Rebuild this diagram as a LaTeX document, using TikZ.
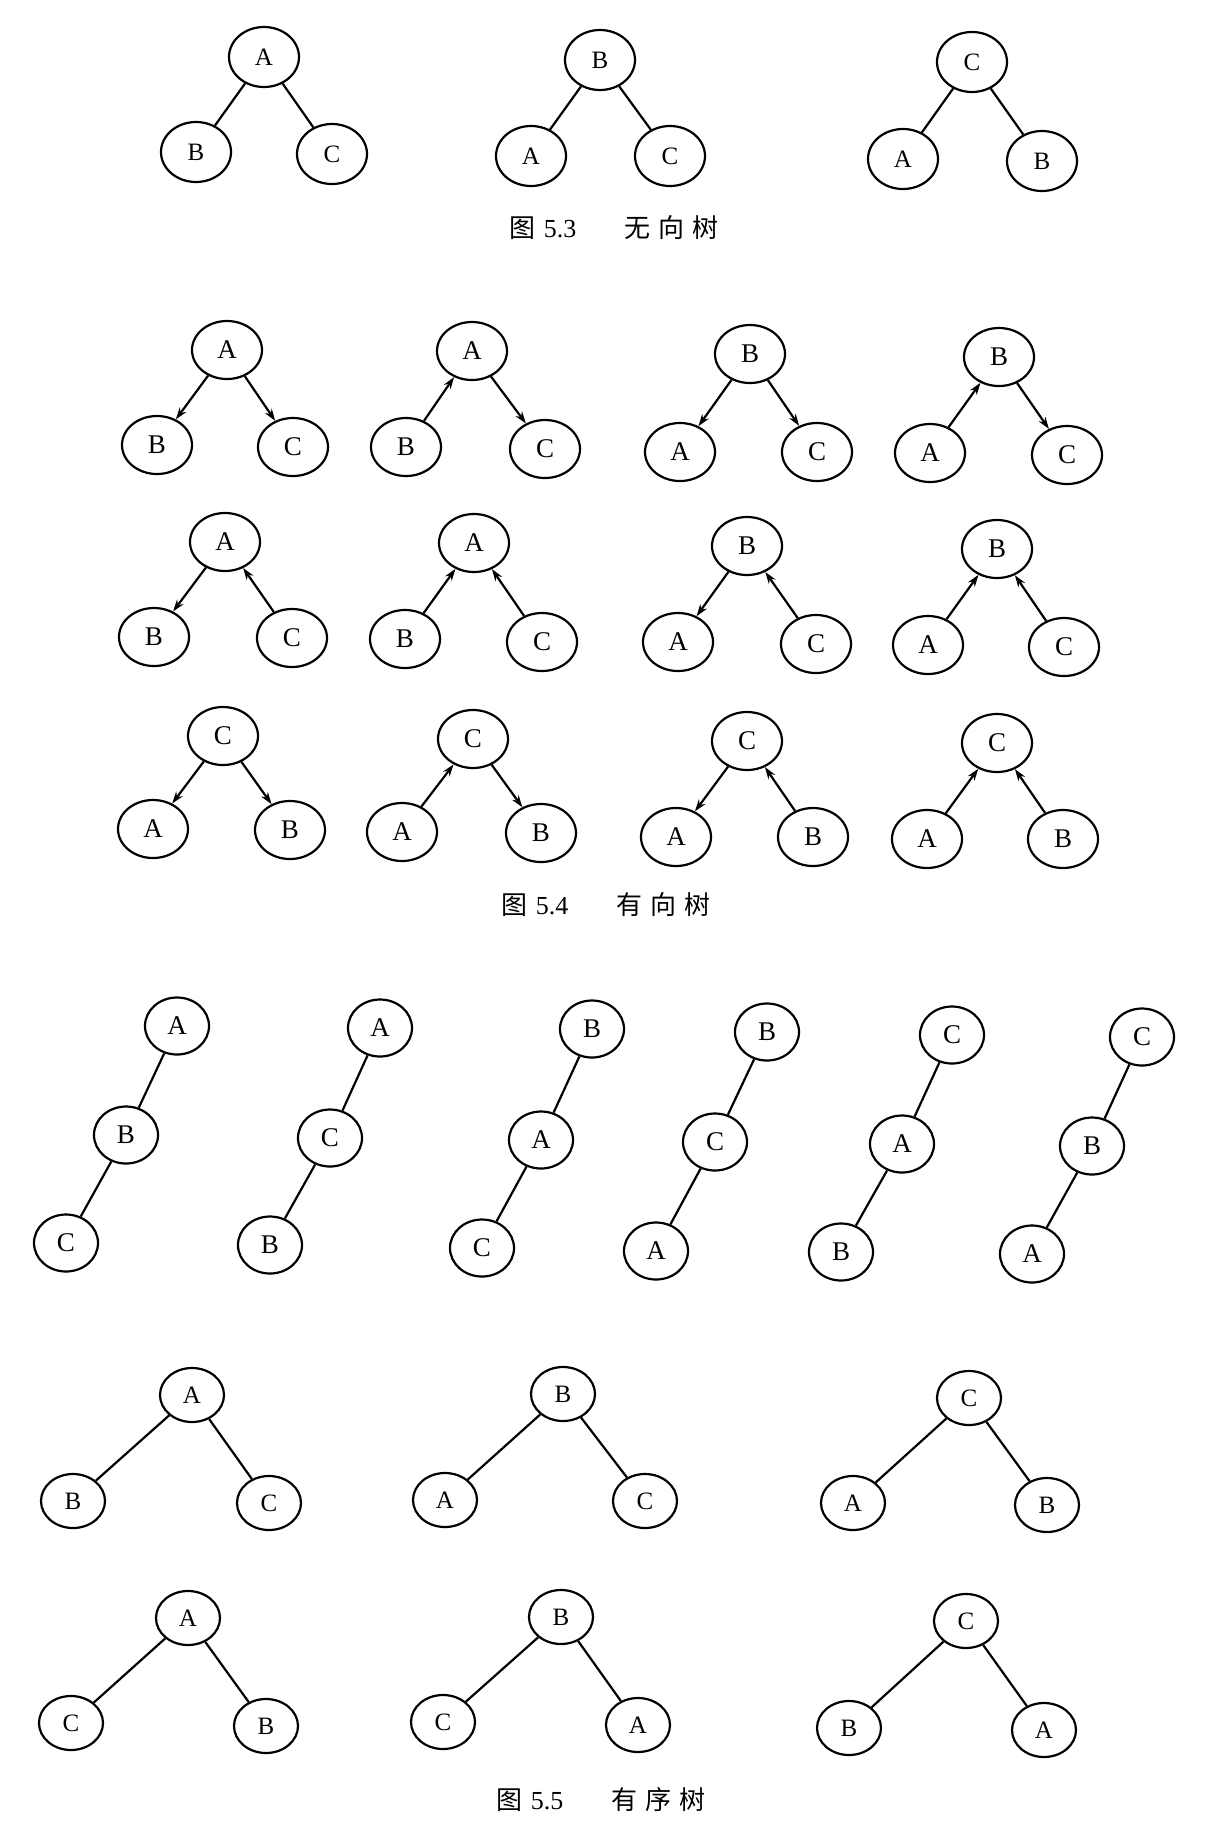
\documentclass[tikz,border=0pt]{standalone}
\usepackage{fontspec}
\setmainfont{Liberation Serif}
\newfontfamily\cjk{Noto Sans CJK SC}
\usetikzlibrary{shapes.geometric,arrows.meta}
\tikzset{
  nd/.style={draw,ellipse,line width=1.1pt,inner sep=0pt,font=\fontsize{12.5}{12.5}\selectfont},
  ndA/.style={nd,minimum width=35pt,minimum height=30pt},
  ndB/.style={nd,minimum width=35pt,minimum height=29pt,font=\fontsize{13.5}{13.5}\selectfont},
  ndC/.style={nd,minimum width=32pt,minimum height=28.5pt,font=\fontsize{13.5}{13.5}\selectfont},
  ndD/.style={nd,minimum width=32pt,minimum height=27pt},
  ln/.style={line width=1.1pt},
  arr/.style={line width=1.1pt,-{Stealth[length=6pt,width=4pt]}},
  figcap/.style={font=\fontsize{13}{13}\selectfont}
}
\newcommand\tri[8]{%
  \node[#2] (#1t) at (#4) {#3};
  \node[#2] (#1l) at (#6) {#5};
  \node[#2] (#1r) at (#8) {#7};}
\newcommand\chain[8]{%
  \node[#2] (#1a) at (#4) {#3};
  \node[#2] (#1b) at (#6) {#5};
  \node[#2] (#1c) at (#8) {#7};
  \draw[ln] (#1a) -- (#1b);
  \draw[ln] (#1b) -- (#1c);}
\newcommand\capt[2]{{\cjk 图}\hspace{4pt}#1\hspace{24pt}{\cjk #2}}
\begin{document}
\begin{tikzpicture}[x=0.5pt,y=-0.5pt]
\useasboundingbox (0,0) rectangle (1213,1838);
% ---------- Fig 5.3 ----------
\tri{u1}{ndA}{A}{264,57}{B}{196,152}{C}{332,154}
\tri{u2}{ndA}{B}{600,60}{A}{531,156}{C}{670,156}
\tri{u3}{ndA}{C}{972,62}{A}{903,159}{B}{1042,161}
\foreach \p in {u1,u2,u3}{\draw[ln] (\p t) -- (\p l); \draw[ln] (\p t) -- (\p r);}
\node[figcap] (c53) at (614,228) {\capt{5.3}{无\hspace{4pt}向\hspace{4pt}树}};
% ---------- Fig 5.4 ----------
\tri{d1}{ndB}{A}{227,350}{B}{157,445}{C}{293,447}
\tri{d2}{ndB}{A}{472,351}{B}{406,447}{C}{545,449}
\tri{d3}{ndB}{B}{750,354}{A}{680,452}{C}{817,452}
\tri{d4}{ndB}{B}{999,357}{A}{930,453}{C}{1067,455}
\tri{d5}{ndB}{A}{225,542}{B}{154,637}{C}{292,638}
\tri{d6}{ndB}{A}{474,543}{B}{405,639}{C}{542,642}
\tri{d7}{ndB}{B}{747,546}{A}{678,642}{C}{816,644}
\tri{d8}{ndB}{B}{997,549}{A}{928,645}{C}{1064,647}
\tri{d9}{ndB}{C}{223,736}{A}{153,829}{B}{290,830}
\tri{d10}{ndB}{C}{473,739}{A}{402,832}{B}{541,833}
\tri{d11}{ndB}{C}{747,741}{A}{676,837}{B}{813,837}
\tri{d12}{ndB}{C}{997,743}{A}{927,839}{B}{1063,839}
% row 1
\draw[arr] (d1t) -- (d1l); \draw[arr] (d1t) -- (d1r);
\draw[arr] (d2l) -- (d2t); \draw[arr] (d2t) -- (d2r);
\draw[arr] (d3t) -- (d3l); \draw[arr] (d3t) -- (d3r);
\draw[arr] (d4l) -- (d4t); \draw[arr] (d4t) -- (d4r);
% row 2
\draw[arr] (d5t) -- (d5l); \draw[arr] (d5r) -- (d5t);
\draw[arr] (d6l) -- (d6t); \draw[arr] (d6r) -- (d6t);
\draw[arr] (d7t) -- (d7l); \draw[arr] (d7r) -- (d7t);
\draw[arr] (d8l) -- (d8t); \draw[arr] (d8r) -- (d8t);
% row 3
\draw[arr] (d9t) -- (d9l); \draw[arr] (d9t) -- (d9r);
\draw[arr] (d10l) -- (d10t); \draw[arr] (d10t) -- (d10r);
\draw[arr] (d11t) -- (d11l); \draw[arr] (d11r) -- (d11t);
\draw[arr] (d12l) -- (d12t); \draw[arr] (d12r) -- (d12t);
\node[figcap] (c54) at (606,905) {\capt{5.4}{有\hspace{4pt}向\hspace{4pt}树}};
% ---------- Fig 5.5 ----------
\chain{k1}{ndC}{A}{177,1026}{B}{126,1135}{C}{66,1243}
\chain{k2}{ndC}{A}{380,1028}{C}{330,1138}{B}{270,1245}
\chain{k3}{ndC}{B}{592,1029}{A}{541,1140}{C}{482,1248}
\chain{k4}{ndC}{B}{767,1032}{C}{715,1142}{A}{656,1251}
\chain{k5}{ndC}{C}{952,1035}{A}{902,1144}{B}{841,1252}
\chain{k6}{ndC}{C}{1142,1037}{B}{1092,1146}{A}{1032,1254}
\tri{o1}{ndD}{A}{192,1395}{B}{73,1501}{C}{269,1503}
\tri{o2}{ndD}{B}{563,1394}{A}{445,1500}{C}{645,1501}
\tri{o3}{ndD}{C}{969,1398}{A}{853,1503}{B}{1047,1505}
\tri{o4}{ndD}{A}{188,1618}{C}{71,1723}{B}{266,1726}
\tri{o5}{ndD}{B}{561,1617}{C}{443,1722}{A}{638,1725}
\tri{o6}{ndD}{C}{966,1621}{B}{849,1728}{A}{1044,1730}
\foreach \p in {o1,o2,o3,o4,o5,o6}{\draw[ln] (\p t) -- (\p l); \draw[ln] (\p t) -- (\p r);}
\node[figcap] (c55) at (601,1800) {\capt{5.5}{有\hspace{4pt}序\hspace{4pt}树}};
\end{tikzpicture}
\end{document}
